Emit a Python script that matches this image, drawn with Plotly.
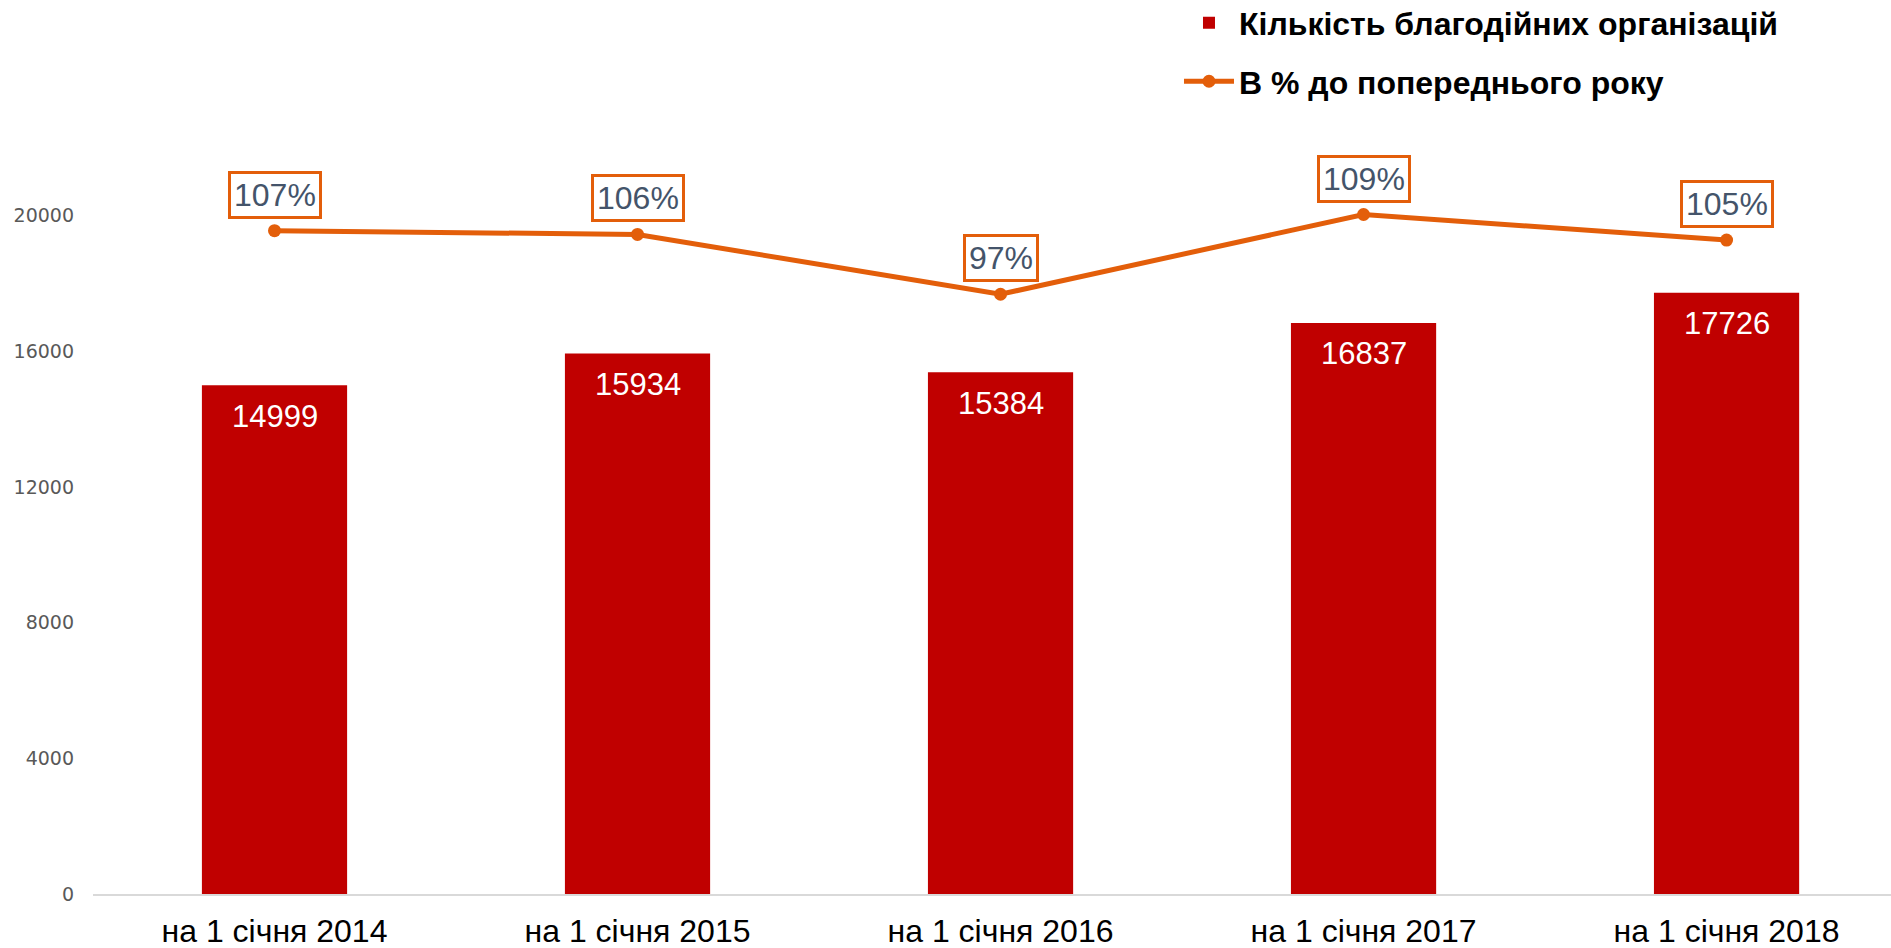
import plotly.graph_objects as go

categories = ["на 1 січня 2014", "на 1 січня 2015", "на 1 січня 2016", "на 1 січня 2017", "на 1 січня 2018"]
org_counts = [14999, 15934, 15384, 16837, 17726]
pct_prev_year = [106.8, 106.2, 96.6, 109.4, 105.3]
pct_labels = ["107%", "106%", "97%", "109%", "105%"]
y_ticks = [0, 4000, 8000, 12000, 16000, 20000]
y_tick_labels = ["0", "4000", "8000", "12000", "16000", "20000"]

bar_color = "#C00000"
line_color = "#E35E0A"

fig = go.Figure()
fig.add_trace(go.Bar(
    x=categories, y=org_counts, name="Кількість благодійних організацій",
    marker=dict(color=bar_color, line=dict(width=0)), width=0.4,
    legendgroup="a", hoverinfo="skip",
))
fig.add_trace(go.Scatter(
    x=categories, y=pct_prev_year, name="В % до попереднього року", yaxis="y2",
    mode="lines+markers", line=dict(color=line_color, width=5),
    marker=dict(color=line_color, size=13), legendgroup="b", hoverinfo="skip",
))

for c, v in zip(categories, org_counts):
    fig.add_annotation(
        x=c, y=v, xref="x", yref="y", text=str(v), showarrow=False,
        yanchor="middle", yshift=-31,
        font=dict(family="Liberation Sans, Arial", size=31, color="white"),
    )

for c, p, lab in zip(categories, pct_prev_year, pct_labels):
    fig.add_annotation(
        x=c, y=p, xref="x", yref="y2", text=lab, showarrow=False,
        yanchor="bottom", yshift=12,
        font=dict(family="Liberation Sans, Arial", size=32, color="#44546A"),
        bgcolor="white", bordercolor=line_color, borderwidth=3, borderpad=3,
    )

fig.update_layout(
    width=1891, height=948,
    margin=dict(l=93, r=0, t=80, b=54, autoexpand=False),
    plot_bgcolor="white", paper_bgcolor="white",
    showlegend=True,
    legend=dict(
        x=0.604, y=1.104, xanchor="left", yanchor="top",
        font=dict(family="Liberation Sans, Arial", size=32, color="black", weight="bold"),
        bgcolor="rgba(0,0,0,0)", tracegroupgap=14, itemwidth=50,
    ),
    xaxis=dict(
        range=[-0.5, 4.453], showgrid=False, showline=True, linecolor="#D9D9D9", linewidth=2,
        ticks="", tickfont=dict(family="Liberation Sans, Arial", size=32, color="black"),
        zeroline=False, ticklabelstandoff=8, automargin=False,
    ),
    yaxis=dict(
        range=[0, 24000], tickvals=y_ticks, ticktext=y_tick_labels, showgrid=False,
        zeroline=False, showline=False, automargin=False,
        tickfont=dict(family="DejaVu Sans", size=19, color="#595959"), ticklabelstandoff=18,
    ),
    yaxis2=dict(
        range=[0.3, 131], overlaying="y", side="right", showgrid=False, zeroline=False,
        showticklabels=False, showline=False, automargin=False,
    ),
)

fig.write_html("out.html", config={"displayModeBar": False},
               post_script="document.body.style.margin='0px';")
